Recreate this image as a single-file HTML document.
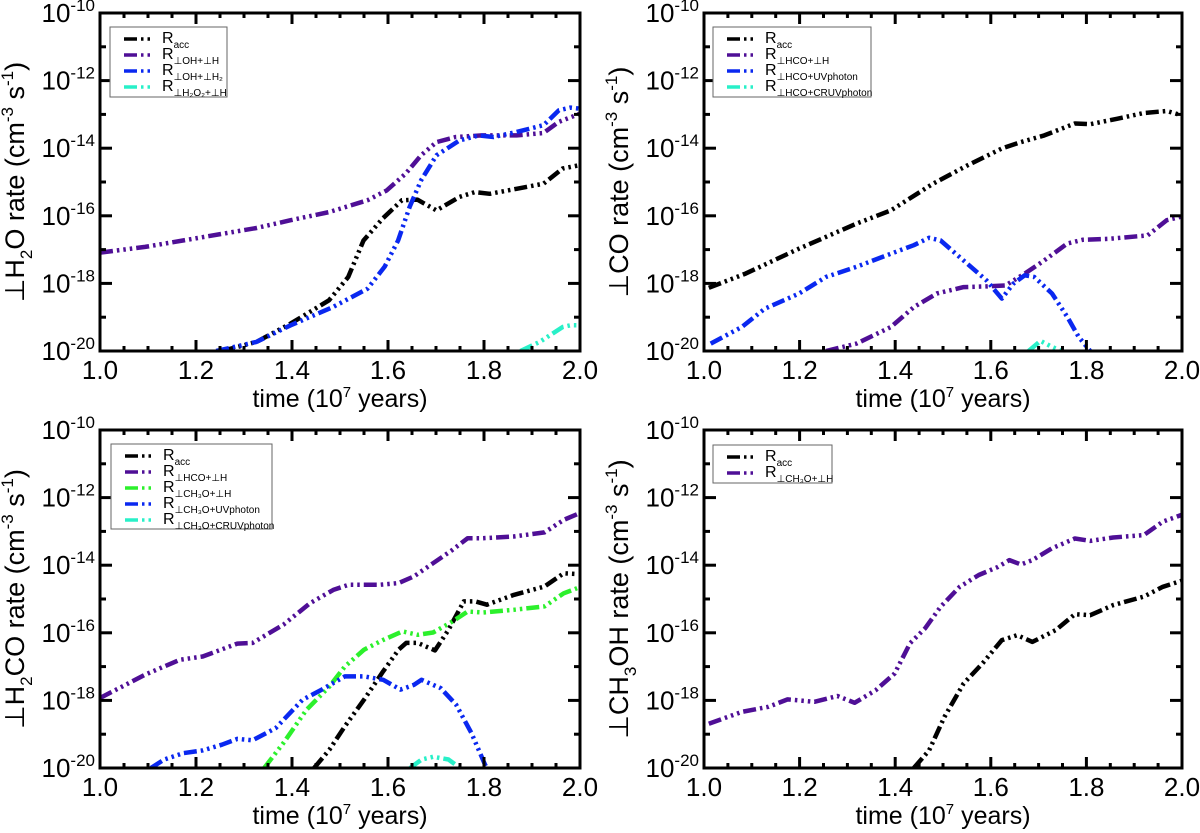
<!DOCTYPE html>
<html><head><meta charset="utf-8"><style>
html,body{margin:0;padding:0;background:#fff}
svg{display:block;font-family:"Liberation Sans",sans-serif}
</style></head><body>
<svg id="fig" width="1200" height="833" viewBox="0 0 1200 833" xmlns="http://www.w3.org/2000/svg"></svg>
<script>
// ---- data (x in 10^7 years, y = log10 rate) ----
const xTicks = [1.0, 1.2, 1.4, 1.6, 1.8, 2.0];
const yTicks = [-10, -12, -14, -16, -18, -20];

// top-left: H2O
const h2oAccX = [1.254,1.326,1.397,1.477,1.517,1.549,1.589,1.629,1.661,1.701,1.749,1.781,1.812,1.868,1.924,1.964,2.0];
const h2oAccY = [-20,-19.73,-19.19,-18.5,-17.81,-16.73,-16.08,-15.54,-15.52,-15.84,-15.44,-15.3,-15.35,-15.2,-15.05,-14.6,-14.5];
const h2oOhHX = [1.0,1.094,1.206,1.326,1.397,1.477,1.557,1.597,1.637,1.669,1.701,1.741,1.796,1.868,1.924,1.956,2.0];
const h2oOhHY = [-17.09,-16.92,-16.65,-16.36,-16.13,-15.89,-15.54,-15.25,-14.75,-14.21,-13.82,-13.67,-13.62,-13.62,-13.55,-13.22,-12.98];
const h2oOhH2X = [1.242,1.326,1.397,1.485,1.557,1.593,1.621,1.645,1.669,1.701,1.749,1.789,1.82,1.868,1.924,1.956,1.98,2.0];
const h2oOhH2Y = [-20,-19.73,-19.24,-18.7,-18.16,-17.51,-16.73,-15.74,-14.95,-14.21,-13.77,-13.62,-13.67,-13.52,-13.32,-12.88,-12.8,-12.83];
const h2oH2o2X = [1.876,1.916,1.964,1.98,2.0];
const h2oH2o2Y = [-20,-19.73,-19.29,-19.24,-19.24];

// top-right: CO
const coAccX = [1.01,1.087,1.199,1.319,1.391,1.479,1.551,1.623,1.663,1.712,1.776,1.808,1.864,1.92,1.968,2.0];
const coAccY = [-18.13,-17.71,-16.97,-16.23,-15.84,-15.05,-14.51,-14.01,-13.82,-13.62,-13.27,-13.29,-13.13,-12.96,-12.9,-13.03];
const coHcoHX = [1.255,1.319,1.391,1.439,1.487,1.543,1.591,1.631,1.671,1.712,1.76,1.792,1.848,1.928,1.968,2.0];
const coHcoHY = [-20,-19.78,-19.29,-18.7,-18.3,-18.11,-18.09,-18.06,-17.71,-17.32,-16.82,-16.71,-16.68,-16.58,-16.13,-16.02];
const coHcoUvX = [1.014,1.079,1.127,1.199,1.255,1.319,1.391,1.439,1.471,1.495,1.551,1.591,1.623,1.647,1.671,1.691,1.728,1.76,1.784,1.808];
const coHcoUvY = [-19.78,-19.29,-18.75,-18.3,-17.81,-17.51,-17.12,-16.87,-16.65,-16.73,-17.42,-17.91,-18.45,-18.01,-17.76,-17.81,-18.3,-18.99,-19.59,-20];
const coHcoCrX = [1.679,1.704,1.728,1.748];
const coHcoCrY = [-20,-19.7,-19.88,-20];

// bottom-left: H2CO
const h2coAccX = [1.446,1.478,1.51,1.55,1.59,1.622,1.638,1.662,1.698,1.726,1.758,1.782,1.806,1.862,1.926,1.966,1.994];
const h2coAccY = [-20,-19.46,-18.77,-17.98,-17.14,-16.5,-16.3,-16.3,-16.52,-15.91,-15.07,-15.07,-15.17,-14.88,-14.63,-14.24,-14.26];
const h2coHcoHX = [1.0,1.094,1.166,1.214,1.286,1.318,1.382,1.438,1.486,1.518,1.582,1.622,1.654,1.694,1.734,1.766,1.798,1.862,1.926,1.966,1.994];
const h2coHcoHY = [-17.93,-17.24,-16.8,-16.7,-16.32,-16.3,-15.76,-15.12,-14.73,-14.58,-14.58,-14.53,-14.33,-13.94,-13.55,-13.2,-13.2,-13.15,-13.03,-12.66,-12.49];
const h2coCh3oHX = [1.342,1.382,1.43,1.478,1.51,1.55,1.59,1.63,1.662,1.694,1.734,1.766,1.798,1.862,1.926,1.966,1.994];
const h2coCh3oHY = [-20,-19.26,-18.28,-17.59,-17.0,-16.5,-16.21,-15.96,-16.06,-15.99,-15.67,-15.37,-15.4,-15.32,-15.22,-14.83,-14.68];
const h2coCh3oUvX = [1.106,1.134,1.174,1.214,1.254,1.286,1.318,1.366,1.422,1.462,1.51,1.55,1.59,1.626,1.654,1.67,1.71,1.742,1.774,1.802,1.806];
const h2coCh3oUvY = [-20,-19.75,-19.56,-19.48,-19.31,-19.14,-19.18,-18.82,-17.98,-17.68,-17.29,-17.29,-17.39,-17.68,-17.54,-17.39,-17.64,-18.13,-18.97,-19.9,-20];
const h2coCh3oCrX = [1.646,1.67,1.694,1.726,1.75];
const h2coCh3oCrY = [-20,-19.75,-19.67,-19.75,-20];

// bottom-right: CH3OH
const ch3ohAccX = [1.439,1.471,1.503,1.543,1.583,1.623,1.655,1.687,1.736,1.776,1.808,1.856,1.92,1.96,2.0];
const ch3ohAccY = [-20,-19.48,-18.49,-17.5,-16.9,-16.22,-16.07,-16.27,-15.92,-15.45,-15.48,-15.18,-14.93,-14.64,-14.46];
const ch3ohCh3oHX = [1.01,1.079,1.135,1.175,1.231,1.279,1.315,1.359,1.399,1.431,1.463,1.495,1.535,1.575,1.615,1.639,1.663,1.687,1.728,1.776,1.808,1.856,1.92,1.96,2.0];
const ch3ohCh3oHY = [-18.69,-18.34,-18.19,-17.97,-18.04,-17.87,-18.07,-17.7,-17.2,-16.31,-15.86,-15.23,-14.64,-14.29,-14.05,-13.85,-13.98,-13.85,-13.5,-13.21,-13.28,-13.18,-13.11,-12.71,-12.51];

const C = {black:'#000000', purple:'#4f0f96', blue:'#0a28f0', green:'#2cf02c', cyan:'#28f0c8'};
const NS = 'http://www.w3.org/2000/svg';
const svg = document.getElementById('fig');

function el(tag, attrs, parent){
  const e = document.createElementNS(NS, tag);
  for (const k in attrs) e.setAttribute(k, attrs[k]);
  (parent||svg).appendChild(e);
  return e;
}

const panels = [
  {id:'h2o', L:100, R:580, T:13, B:351, title:[['⊥H',0],['2',1],['O rate (cm',0],['-3',2],[' s',0],['-1',2],[')',0]],
   legend:{x:110,y:27,w:117,h:70},
   series:[
    {n:'acc', c:C.black, x:h2oAccX, y:h2oAccY, lab:[['R',0],['acc',1]]},
    {n:'oh-h', c:C.purple, x:h2oOhHX, y:h2oOhHY, lab:[['R',0],['⊥OH+⊥H',1]]},
    {n:'oh-h2', c:C.blue, x:h2oOhH2X, y:h2oOhH2Y, lab:[['R',0],['⊥OH+⊥H₂',1]]},
    {n:'h2o2-h', c:C.cyan, x:h2oH2o2X, y:h2oH2o2Y, lab:[['R',0],['⊥H₂O₂+⊥H',1]]}]},
  {id:'co', L:704, R:1182, T:13, B:351, title:[['⊥CO rate (cm',0],['-3',2],[' s',0],['-1',2],[')',0]],
   legend:{x:713,y:27,w:158,h:70},
   series:[
    {n:'acc', c:C.black, x:coAccX, y:coAccY, lab:[['R',0],['acc',1]]},
    {n:'hco-h', c:C.purple, x:coHcoHX, y:coHcoHY, lab:[['R',0],['⊥HCO+⊥H',1]]},
    {n:'hco-uv', c:C.blue, x:coHcoUvX, y:coHcoUvY, lab:[['R',0],['⊥HCO+UVphoton',1]]},
    {n:'hco-cruv', c:C.cyan, x:coHcoCrX, y:coHcoCrY, lab:[['R',0],['⊥HCO+CRUVphoton',1]]}]},
  {id:'h2co', L:100, R:580, T:430, B:768, title:[['⊥H',0],['2',1],['CO rate (cm',0],['-3',2],[' s',0],['-1',2],[')',0]],
   legend:{x:111,y:444,w:161,h:85},
   series:[
    {n:'acc', c:C.black, x:h2coAccX, y:h2coAccY, lab:[['R',0],['acc',1]]},
    {n:'hco-h', c:C.purple, x:h2coHcoHX, y:h2coHcoHY, lab:[['R',0],['⊥HCO+⊥H',1]]},
    {n:'ch3o-h', c:C.green, x:h2coCh3oHX, y:h2coCh3oHY, lab:[['R',0],['⊥CH₃O+⊥H',1]]},
    {n:'ch3o-uv', c:C.blue, x:h2coCh3oUvX, y:h2coCh3oUvY, lab:[['R',0],['⊥CH₃O+UVphoton',1]]},
    {n:'ch3o-cruv', c:C.cyan, x:h2coCh3oCrX, y:h2coCh3oCrY, lab:[['R',0],['⊥CH₃O+CRUVphoton',1]]}]},
  {id:'ch3oh', L:704, R:1182, T:430, B:768, title:[['⊥CH',0],['3',1],['OH rate (cm',0],['-3',2],[' s',0],['-1',2],[')',0]],
   legend:{x:713,y:445,w:119,h:38},
   series:[
    {n:'acc', c:C.black, x:ch3ohAccX, y:ch3ohAccY, lab:[['R',0],['acc',1]]},
    {n:'ch3o-h', c:C.purple, x:ch3ohCh3oHX, y:ch3ohCh3oHY, lab:[['R',0],['⊥CH₃O+⊥H',1]]}]}
];

const DASH = '13,4,2.5,4,2.5,4,2.5,4';

function addRich(parent, parts, bigSize, smallSize){
  let prev = 0;
  parts.forEach(p=>{
    const t = el('tspan', {}, parent);
    const off = p[1]===1 ? bigSize*0.3 : p[1]===2 ? -bigSize*0.4 : 0;
    const prevOff = prev===1 ? bigSize*0.3 : prev===2 ? -bigSize*0.4 : 0;
    const dy = off - prevOff;
    if (dy) t.setAttribute('dy', dy);
    t.setAttribute('font-size', p[1] ? smallSize : bigSize);
    t.textContent = p[0];
    prev = p[1];
  });
}

panels.forEach(P=>{
  const g = el('g', {});
  
  
  const sx = v => P.L + (v-1.0)/(2.0-1.0)*(P.R-P.L);
  const sy = v => P.T + (-10 - v)/10*(P.B-P.T);

  const cp = el('clipPath', {id:'clip-'+P.id}, g);
  el('rect', {x:P.L, y:P.T, width:P.R-P.L, height:P.B-P.T}, cp);

  const sg = el('g', {'clip-path':'url(#clip-'+P.id+')'}, g);
  P.series.forEach(s=>{
    const pts = s.x.map((xv,i)=> sx(xv).toFixed(1)+','+sy(s.y[i]).toFixed(1)).join(' ');
    const pl = el('polyline', {points:pts, fill:'none', stroke:s.c, 'stroke-width':4.5, 'stroke-dasharray':DASH, 'stroke-linejoin':'round'}, sg);
    
    
  });

  const fr = el('rect', {x:P.L, y:P.T, width:P.R-P.L, height:P.B-P.T, fill:'none', stroke:'#000', 'stroke-width':3}, g);
  
  

  for (let v=1.0; v<=2.0001; v+=0.05){
    const major = Math.abs(Math.round(v*5)-v*5) < 1e-6;
    const len = major ? 11 : 5;
    const X = sx(v);
    el('line', {x1:X, y1:P.B, x2:X, y2:P.B-len, stroke:'#000', 'stroke-width':3}, g);
    el('line', {x1:X, y1:P.T, x2:X, y2:P.T+len, stroke:'#000', 'stroke-width':3}, g);
  }
  xTicks.forEach(v=>{
    const t = el('text', {x:sx(v), y:P.B+28, 'text-anchor':'middle', 'font-size':26}, g);
    
    
    t.textContent = v.toFixed(1);
  });
  for (let d=-20; d<=-10; d++){
    const major = d%2===0;
    const len = major ? 12 : 6;
    const Y = sy(d);
    el('line', {x1:P.L, y1:Y, x2:P.L+len, y2:Y, stroke:'#000', 'stroke-width':3}, g);
    el('line', {x1:P.R, y1:Y, x2:P.R-len, y2:Y, stroke:'#000', 'stroke-width':3}, g);
  }
  yTicks.forEach(v=>{
    const t = el('text', {x:P.L-5, y:sy(v)+9, 'text-anchor':'end', 'font-size':26}, g);
    
    
    const a = el('tspan', {}, t); a.textContent = '10';
    const b = el('tspan', {dy:-11, 'font-size':17}, t); b.textContent = String(v);
  });

  const xt = el('text', {x:(P.L+P.R)/2, y:P.B+56, 'text-anchor':'middle', 'font-size':25}, g);
  
  
  addRich(xt, [['time (10',0],['7',2],[' years)',0]], 25, 15);

  const cy = (P.T+P.B)/2;
  const yt = el('text', {x:0, y:0, 'text-anchor':'middle', 'font-size':27, transform:'translate('+(P.L-76)+','+cy+') rotate(-90)'}, g);
  
  
  addRich(yt, P.title, 27, 17);

  const lg = el('g', {}, g);
  
  
  el('rect', {x:P.legend.x, y:P.legend.y, width:P.legend.w, height:P.legend.h, fill:'#fff', stroke:'#666', 'stroke-width':1}, lg);
  P.series.forEach((s,i)=>{
    const ey = P.legend.y + 12 + i*16;
    const ent = el('g', {}, lg);
    
    
    el('line', {x1:P.legend.x+14, y1:ey, x2:P.legend.x+44, y2:ey, stroke:s.c, 'stroke-width':3.5, 'stroke-dasharray':DASH}, ent);
    const t = el('text', {x:P.legend.x+52, y:ey+4, 'font-size':16}, ent);
    addRich(t, s.lab, 16, 10);
  });
});
</script>
</body></html>
